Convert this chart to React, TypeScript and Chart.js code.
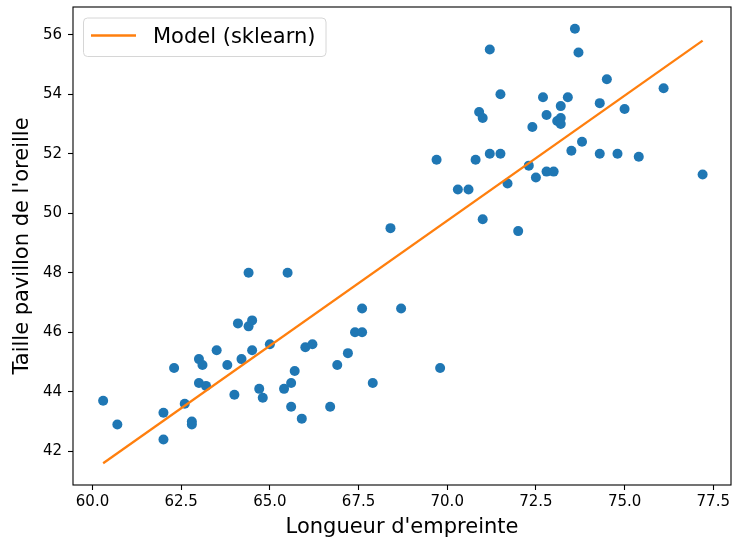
import React, { useEffect, useRef } from "react";
import { Chart, registerables } from "chart.js";

Chart.register(...registerables);

const footLength = [
  60.3, 60.7, 62.0, 62.0, 62.3, 62.6, 62.8, 62.8, 63.0, 63.1,
  63.0, 63.2, 63.5, 63.8, 64.0, 64.1, 64.4, 64.5, 64.2, 64.5,
  64.4, 64.7, 64.8, 65.0, 65.4, 65.5, 65.6, 65.7, 65.6, 65.9,
  66.0, 66.2, 66.7, 66.9, 67.2, 67.4, 67.6, 67.6, 67.9, 68.7,
  69.8, 68.4, 69.7, 70.3, 70.6, 70.8, 70.9, 71.0, 71.2, 71.2,
  71.5, 71.5, 71.0, 71.7, 72.0, 72.3, 72.4, 72.5, 72.7, 72.8,
  72.8, 73.0, 73.2, 73.1, 73.2, 73.2, 73.4, 73.5, 73.6, 73.7,
  73.8, 74.3, 74.3, 74.5, 74.8, 75.0, 75.4, 76.1, 77.2,
];
const earHeight = [
  43.7, 42.9, 42.4, 43.3, 44.8, 43.6, 43.0, 42.9, 45.1, 44.9,
  44.3, 44.2, 45.4, 44.9, 43.9, 46.3, 46.2, 46.4, 45.1, 45.4,
  48.0, 44.1, 43.8, 45.6, 44.1, 48.0, 44.3, 44.7, 43.5, 43.1,
  45.5, 45.6, 43.5, 44.9, 45.3, 46.0, 46.0, 46.8, 44.3, 46.8,
  44.8, 49.5, 51.8, 50.8, 50.8, 51.8, 53.4, 53.2, 55.5, 52.0,
  52.0, 54.0, 49.8, 51.0, 49.4, 51.6, 52.9, 51.2, 53.9, 53.3,
  51.4, 51.4, 53.6, 53.1, 53.2, 53.0, 53.9, 52.1, 56.2, 55.4,
  52.4, 53.7, 52.0, 54.5, 52.0, 53.5, 51.9, 54.2, 51.3,
];
const modelX = [60.3, 77.2];
const modelY = [41.6, 55.8];

const xTicks = [60, 62.5, 65, 67.5, 70, 72.5, 75, 77.5];
const yTicks = [42, 44, 46, 48, 50, 52, 54, 56];
const xLabel = "Longueur d'empreinte";
const yLabel = "Taille pavillon de l'oreille";
const legendLabel = "Model (sklearn)";

const FONT = "'DejaVu Sans', sans-serif";

const overlayPlugin = {
  id: "overlay",
  afterDatasetsDraw(chart: any) {
    const { ctx, chartArea: a } = chart;
    ctx.save();
    ctx.strokeStyle = "#000";
    ctx.lineWidth = 1.1;
    ctx.strokeRect(a.left, a.top, a.right - a.left, a.bottom - a.top);
    const bx = a.left + 10.5;
    const by = a.top + 11;
    const bw = 242.5;
    const bh = 38.5;
    const r = 4;
    ctx.beginPath();
    ctx.moveTo(bx + r, by);
    ctx.lineTo(bx + bw - r, by);
    ctx.arcTo(bx + bw, by, bx + bw, by + r, r);
    ctx.lineTo(bx + bw, by + bh - r);
    ctx.arcTo(bx + bw, by + bh, bx + bw - r, by + bh, r);
    ctx.lineTo(bx + r, by + bh);
    ctx.arcTo(bx, by + bh, bx, by + bh - r, r);
    ctx.lineTo(bx, by + r);
    ctx.arcTo(bx, by, bx + r, by, r);
    ctx.closePath();
    ctx.fillStyle = "rgba(255,255,255,0.8)";
    ctx.fill();
    ctx.strokeStyle = "#d6d6d6";
    ctx.lineWidth = 1;
    ctx.stroke();
    ctx.beginPath();
    ctx.strokeStyle = "#ff7f0e";
    ctx.lineWidth = 2.3;
    ctx.moveTo(bx + 7.5, by + 17.5);
    ctx.lineTo(bx + 52.5, by + 17.5);
    ctx.stroke();
    ctx.fillStyle = "#000";
    ctx.font = `21px ${FONT}`;
    ctx.textBaseline = "alphabetic";
    ctx.textAlign = "left";
    ctx.fillText(legendLabel, bx + 69.5, by + 25);
    ctx.restore();
  },
};

const zeroPad = (s: any) => {
  s.paddingTop = 0;
  s.paddingBottom = 0;
  s.paddingLeft = 0;
  s.paddingRight = 0;
};

export default function App() {
  const ref = useRef<HTMLCanvasElement | null>(null);

  useEffect(() => {
    if (!ref.current) return;
    const chart = new Chart(ref.current, {
      type: "scatter",
      data: {
        datasets: [
          {
            type: "line",
            label: legendLabel,
            data: modelX.map((x, i) => ({ x, y: modelY[i] })),
            borderColor: "#ff7f0e",
            borderWidth: 2.3,
            pointRadius: 0,
            fill: false,
            order: 0,
          } as any,
          {
            type: "scatter",
            label: "data",
            data: footLength.map((x, i) => ({ x, y: earHeight[i] })),
            backgroundColor: "#1f77b4",
            borderColor: "#1f77b4",
            borderWidth: 0,
            pointRadius: 5,
            order: 1,
          },
        ],
      },
      options: {
        responsive: false,
        animation: false,
        layout: { padding: { top: 7, right: 3, left: 0, bottom: 0 } },
        plugins: {
          legend: { display: false },
          tooltip: { enabled: false },
        },
        scales: {
          x: {
            type: "linear",
            min: 59.45,
            max: 78.0,
            afterFit: (s: any) => {
              s.height = 55;
              zeroPad(s);
            },
            afterBuildTicks: (s: any) => {
              s.ticks = xTicks.map((v) => ({ value: v }));
            },
            ticks: {
              autoSkip: false,
              maxRotation: 0,
              padding: 3,
              color: "#000",
              font: { family: FONT, size: 15 },
              callback: (v: any) => Number(v).toFixed(1),
            },
            grid: {
              drawOnChartArea: false,
              drawTicks: true,
              tickLength: 5,
              tickWidth: 1.1,
              tickColor: "#000",
            },
            border: { display: false },
            title: {
              display: true,
              text: xLabel,
              color: "#000",
              font: { family: FONT, size: 21 },
              padding: { top: 0, bottom: 0 },
            },
          },
          y: {
            type: "linear",
            min: 40.87,
            max: 56.93,
            afterFit: (s: any) => {
              s.width = 73;
              zeroPad(s);
            },
            afterBuildTicks: (s: any) => {
              s.ticks = yTicks.map((v) => ({ value: v }));
            },
            ticks: {
              autoSkip: false,
              padding: 6,
              color: "#000",
              font: { family: FONT, size: 15 },
              callback: (v: any) => String(v),
            },
            grid: {
              drawOnChartArea: false,
              drawTicks: true,
              tickLength: 5,
              tickWidth: 1.1,
              tickColor: "#000",
            },
            border: { display: false },
            title: {
              display: true,
              text: yLabel,
              color: "#000",
              font: { family: FONT, size: 21 },
              padding: { top: 10, bottom: 0 },
            },
          },
        },
      },
      plugins: [overlayPlugin],
    });
    return () => chart.destroy();
  }, []);

  return (
    <div style={{ position: "fixed", left: 0, top: 0, width: 736, height: 540, background: "#fff" }}>
      <canvas ref={ref} width={736} height={540} style={{ width: 736, height: 540, display: "block" }} />
    </div>
  );
}
